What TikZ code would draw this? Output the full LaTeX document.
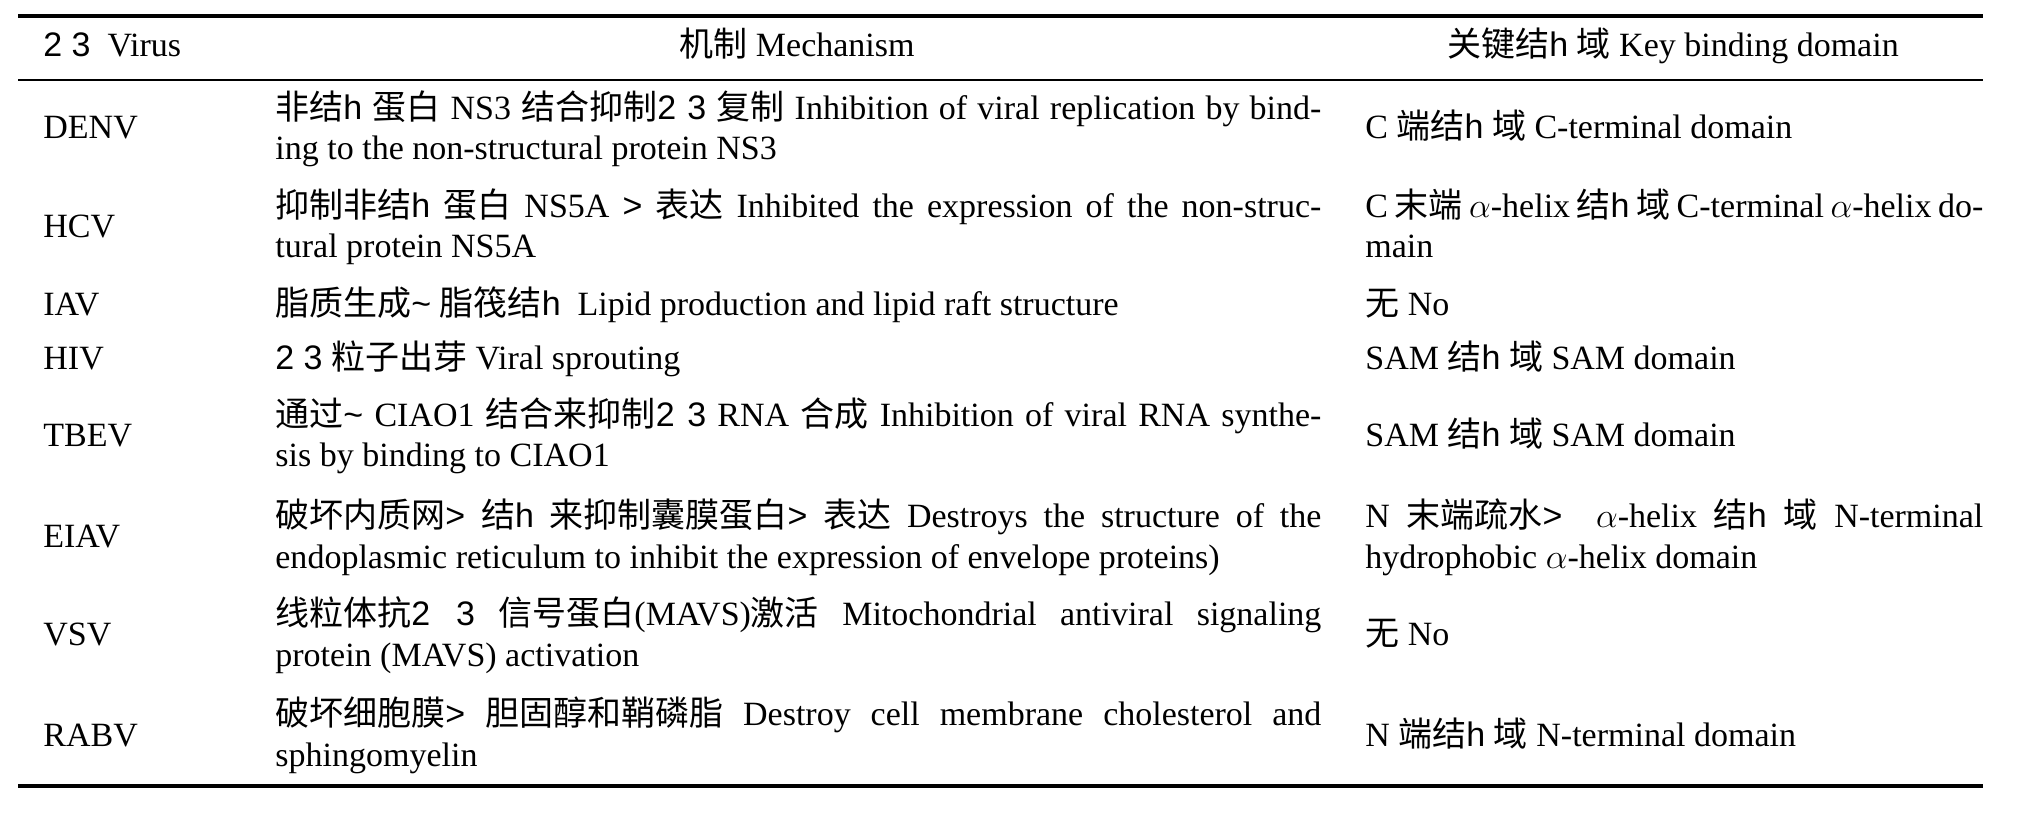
\documentclass[tikz,border=0pt]{standalone}
\usepackage{fontspec}
\setmainfont{Liberation Serif}
\newfontfamily\cjk{Noto Sans CJK SC}
\newfontfamily\garblefont{Liberation Sans}
\usetikzlibrary{positioning}
\newcommand{\zh}[1]{{\cjk #1}}
\newcommand{\gl}[1]{{\garblefont #1}}
\newcommand{\mfull}[1]{\makebox[523pt][s]{#1}}
\newcommand{\kfull}[1]{\makebox[309pt][s]{#1}}
\tikzset{
        cell/.style={anchor=base west, inner sep=0pt, font=\fontsize{17}{20}\selectfont},
        head/.style={anchor=base, inner sep=0pt, font=\fontsize{17}{20}\selectfont},
        rulethick/.style={line width=2pt},
        rulethin/.style={line width=1.3pt},
    }
\begin{document}
\begin{tikzpicture}[x=0.5pt,y=-0.5pt]
        \useasboundingbox (0,0) rectangle (2027,814);
        % rules
        \draw[rulethick] (18,16) -- (1983,16);
        \draw[rulethin] (18,80) -- (1983,80);
        \draw[rulethick] (18,786) -- (1983,786);

        % header
        \node[cell] (hv) at (43,56) {\gl{2 3}\ \ Virus};
        \node[head] (hm) at (797,56) {\zh{机制} Mechanism};
        \node[head] (hk) at (1673,56) {\zh{关键结}\gl{h}\ \zh{域} Key binding domain};

        % virus column
        \node[cell] (v1) at (43,138) {DENV};
        \node[cell] (v2) at (43,237) {HCV};
        \node[cell] (v3) at (43,315) {IAV};
        \node[cell] (v4) at (43,369) {HIV};
        \node[cell] (v5) at (43,446) {TBEV};
        \node[cell] (v6) at (43,547) {EIAV};
        \node[cell] (v7) at (43,645) {VSV};
        \node[cell] (v8) at (43,746) {RABV};

        % mechanism column
        \node[cell] (m1a) at (275,119) {\mfull{\zh{非结}\gl{h}\ \zh{蛋白} NS3 \zh{结合抑制}\gl{2 3} \zh{复制} Inhibition of viral replication by bind-}};
        \node[cell] (m1b) at (275,159) {ing to the non-structural protein NS3};
        \node[cell] (m2a) at (275,217) {\mfull{\zh{抑制非结}\gl{h}\ \zh{蛋白} NS5A \gl{>} \zh{表达} Inhibited the expression of the non-struc-}};
        \node[cell] (m2b) at (275,257) {tural protein NS5A};
        \node[cell] (m3) at (275,315) {\zh{脂质生成}\gl{\textasciitilde}\ \zh{脂筏结}\gl{h}\ \ Lipid production and lipid raft structure};
        \node[cell] (m4) at (275,369) {\gl{2 3} \zh{粒子出芽} Viral sprouting};
        \node[cell] (m5a) at (275,426) {\mfull{\zh{通过}\gl{\textasciitilde}\ CIAO1 \zh{结合来抑制}\gl{2 3}\ RNA \zh{合成} Inhibition of viral RNA synthe-}};
        \node[cell] (m5b) at (275,466) {sis by binding to CIAO1};
        \node[cell] (m6a) at (275,527) {\mfull{\zh{破坏内质网}\gl{>} \zh{结}\gl{h} \zh{来抑制囊膜蛋白}\gl{>} \zh{表达} Destroys the structure of the}};
        \node[cell] (m6b) at (275,568) {endoplasmic reticulum to inhibit the expression of envelope proteins)};
        \node[cell] (m7a) at (275,625) {\mfull{\zh{线粒体抗}\gl{2 3} \zh{信号蛋白}(MAVS)\zh{激活} Mitochondrial antiviral signaling}};
        \node[cell] (m7b) at (275,666) {protein (MAVS) activation};
        \node[cell] (m8a) at (275,725) {\mfull{\zh{破坏细胞膜}\gl{>} \zh{胆固醇和鞘磷脂} Destroy cell membrane cholesterol and}};
        \node[cell] (m8b) at (275,766) {sphingomyelin};

        % key binding domain column
        \node[cell] (k1) at (1365,138) {C \zh{端结}\gl{h}\ \zh{域} C-terminal domain};
        \node[cell] (k2a) at (1365,217) {\kfull{C \zh{末端} $\alpha$-helix \zh{结}\gl{h}\ \zh{域} C-terminal $\alpha$-helix do-}};
        \node[cell] (k2b) at (1365,257) {main};
        \node[cell] (k3) at (1365,315) {\zh{无} No};
        \node[cell] (k4) at (1365,369) {SAM \zh{结}\gl{h}\ \zh{域} SAM domain};
        \node[cell] (k5) at (1365,446) {SAM \zh{结}\gl{h}\ \zh{域} SAM domain};
        \node[cell] (k6a) at (1365,527) {\kfull{N \zh{末端疏水}\gl{>}\ \ $\alpha$-helix \zh{结}\gl{h}\ \zh{域} N-terminal}};
        \node[cell] (k6b) at (1365,568) {hydrophobic $\alpha$-helix domain};
        \node[cell] (k7) at (1365,645) {\zh{无} No};
        \node[cell] (k8) at (1365,746) {N \zh{端结}\gl{h}\ \zh{域} N-terminal domain};
    \end{tikzpicture}
\end{document}
